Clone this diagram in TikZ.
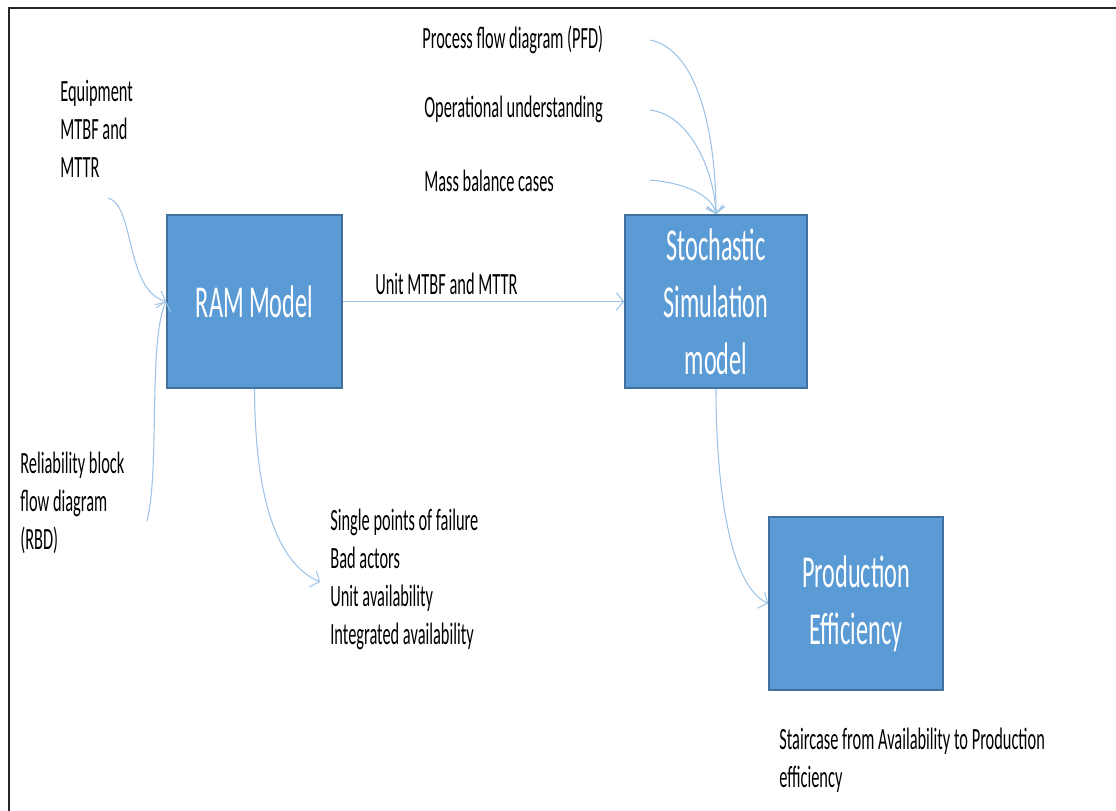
\documentclass[tikz,border=0pt]{standalone}
\usepackage{fontspec}
\setmainfont[FakeStretch=0.53]{Carlito}
\usetikzlibrary{arrows.meta}

\definecolor{boxblue}{HTML}{5B9BD5}
\definecolor{boxedge}{HTML}{41719C}
\definecolor{linkblue}{HTML}{9DC3E6}

\begin{document}
\begin{tikzpicture}[x=0.02cm, y=-0.02cm,
  block/.style={rectangle, draw=boxedge, line width=1pt, fill=boxblue, text=white,
    align=center, font=\fontsize{26}{32.4}\selectfont, minimum height=3.46cm},
  note/.style={anchor=west, inner sep=0pt, align=left, font=\fontsize{17.6}{21.6}\selectfont},
  link/.style={draw=linkblue, line width=0.6pt, -{Straight Barb[length=4pt,width=10pt]}}]
  \useasboundingbox (0,0) rectangle (1116,811);

  % Frame
  \draw[line width=1.1pt, black!85] (9,811) -- (9,8) -- (1116,8);

  % Models
  \node[block, minimum width=3.5cm] (ram) at (254.5,301.5) {RAM Model};
  \node[block, minimum width=3.64cm] (sim) at (716,301.5) {Stochastic\\Simulation\\model};
  \node[block, minimum width=3.48cm] (prod) at (856,603.5) {Production\\Efficiency};

  % Inputs and outputs
  \node[note] (equip) at (60,129) {Equipment\\MTBF and\\MTTR};
  \node[note] (rbd) at (20,503) {Reliability block\\flow diagram\\(RBD)};
  \node[note] (pfd) at (422,40) {Process flow diagram (PFD)};
  \node[note] (ops) at (424,109) {Operational understanding};
  \node[note] (mass) at (424,181) {Mass balance cases};
  \node[note] (unit) at (375,284) {Unit MTBF and MTTR};
  \node[note] (results) at (330,579.5) {Single points of failure\\Bad actors\\Unit availability\\Integrated availability};
  \node[note] (stair) at (779,760.5) {Staircase from Availability to Production\\efficiency};

  % Free ends
  \coordinate (equip-tail) at (108,198);
  \coordinate (rbd-tail) at (147,521);
  \coordinate (pfd-tail) at (650,40);
  \coordinate (ops-tail) at (650,110);
  \coordinate (mass-tail) at (650,180);
  \coordinate (results-head) at (320,582);

  % Connect nodes
  \draw[link] (equip-tail) .. controls (135,205) and (125,290) .. (ram.west);
  \draw[link] (rbd-tail) .. controls (160,470) and (148,340) .. (ram.west);
  \draw[link] (ram) -- (sim);
  \draw[link] (pfd-tail) .. controls (700,50) and (716,140) .. (sim.north);
  \draw[link] (ops-tail) .. controls (690,115) and (714,170) .. (sim.north);
  \draw[link] (mass-tail) .. controls (685,183) and (712,195) .. (sim.north);
  \draw[link] (ram.south) .. controls (255,480) and (270,560) .. (results-head);
  \draw[link] (sim.south) .. controls (716,480) and (728,585) .. (prod.west);
\end{tikzpicture}
\end{document}
